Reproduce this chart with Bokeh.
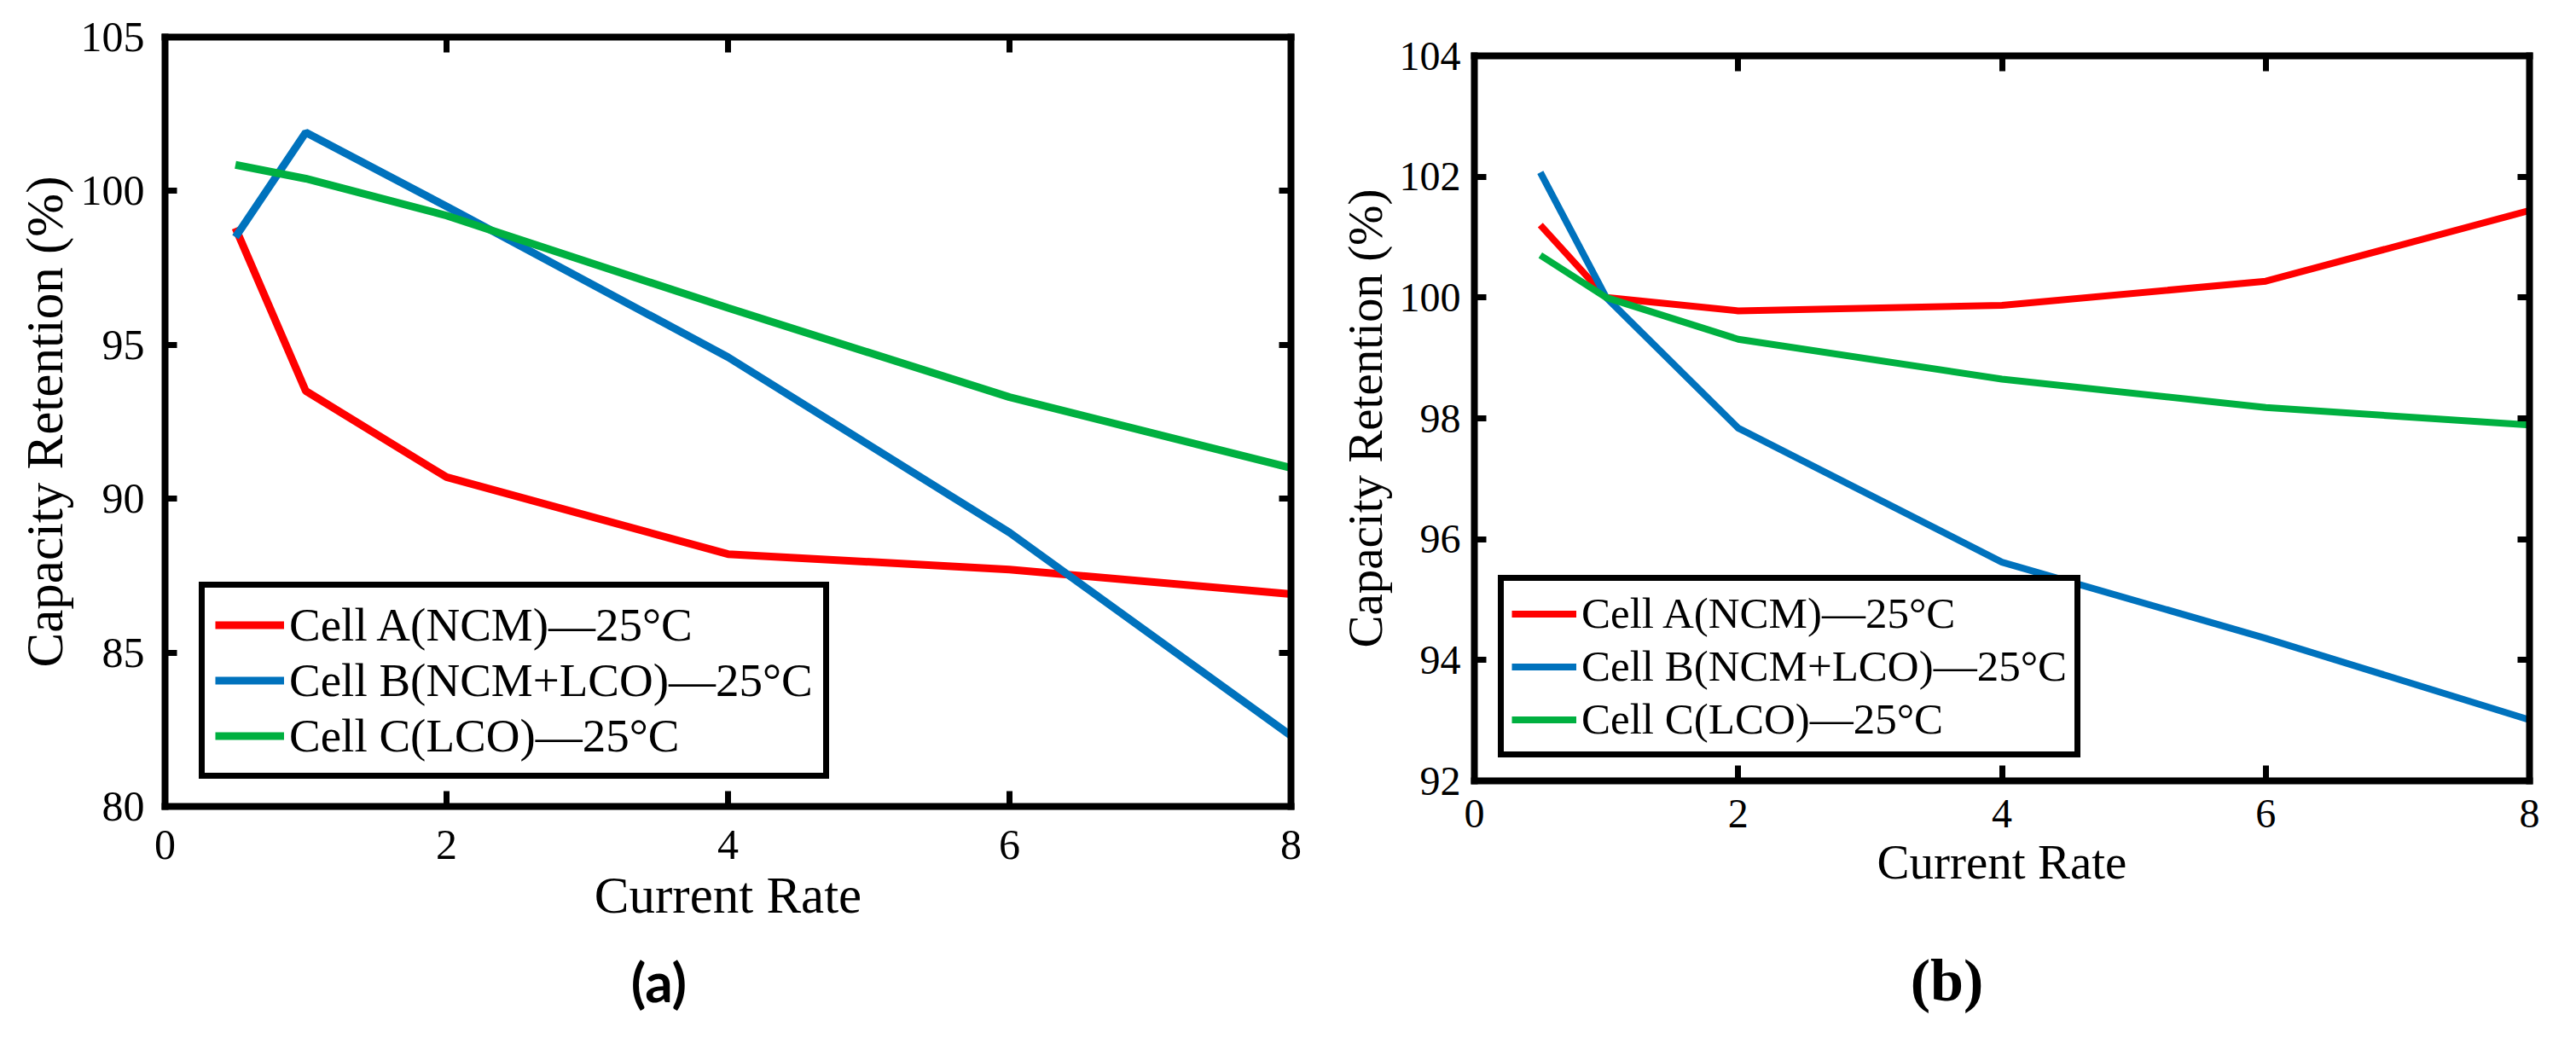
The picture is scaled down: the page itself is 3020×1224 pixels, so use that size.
from bokeh.core.properties import value
from bokeh.embed import file_html
from bokeh.layouts import column, row
from bokeh.models import (ColumnDataSource, CustomJSTickFormatter, FixedTicker, Legend, LegendItem,
                          LinearAxis, Range1d)
from bokeh.plotting import figure
from bokeh.resources import INLINE

# current rate (C) and capacity retention (%)
rates = [0.5, 1, 2, 4, 6, 8]
cell_labels = ["Cell A(NCM)—25°C", "Cell B(NCM+LCO)—25°C", "Cell C(LCO)—25°C"]
cell_colors = ["#ff0000", "#0072bd", "#00b040"]

a_cell_a = [98.8, 93.5, 90.7, 88.2, 87.7, 86.9]
a_cell_b = [98.5, 101.9, 99.5, 94.6, 88.9, 82.3]
a_cell_c = [100.85, 100.4, 99.2, 96.2, 93.3, 91.0]

b_cell_a = [101.2, 100.0, 99.78, 99.87, 100.27, 101.44]
b_cell_b = [102.07, 100.0, 97.84, 95.62, 94.36, 93.01]
b_cell_c = [100.7, 100.0, 99.31, 98.65, 98.18, 97.89]

x_ticks = [0, 2, 4, 6, 8]
a_y_ticks = [80, 85, 90, 95, 100, 105]
b_y_ticks = [92, 94, 96, 98, 100, 102, 104]

SERIF = "Liberation Serif"
TOTAL_H = 1200


def style_axis(axis, ticks, tick_in, font_px, standoff):
    axis.ticker = FixedTicker(ticks=ticks)
    axis.axis_line_width = 8
    axis.axis_line_color = "black"
    axis.axis_line_cap = "square"
    axis.major_tick_in = tick_in
    axis.major_tick_out = 0
    axis.major_tick_line_width = 7
    axis.major_tick_line_color = "black"
    axis.minor_tick_line_color = None
    axis.major_label_standoff = standoff
    axis.major_label_text_font = SERIF
    axis.major_label_text_font_size = f"{font_px}px"
    axis.major_label_text_color = "black"


def box_axis(p, ticks, tick_in, side):
    # matlab "box on": ticks on top/right too, without labels
    ax = LinearAxis()
    style_axis(ax, ticks, tick_in, 0, 0)
    ax.formatter = CustomJSTickFormatter(code="return ''")
    p.add_layout(ax, side)


def make_panel(series, y_lo, y_hi, y_ticks, width, height, borders, fonts, line_w, cfg):
    left, right, top = borders
    tick_px, label_px = fonts
    p = figure(
        width=width,
        height=height,
        x_range=Range1d(0, 8),
        y_range=Range1d(y_lo, y_hi),
        output_backend="svg",
        toolbar_location=None,
        min_border_left=left,
        min_border_right=right,
        min_border_top=top,
        min_border_bottom=height - top - cfg["frame_h"],
    )
    p.grid.visible = False
    p.outline_line_color = None
    p.background_fill_color = "white"

    style_axis(p.xaxis[0], x_ticks, 18, tick_px, cfg["x_standoff"])
    style_axis(p.yaxis[0], y_ticks, 14, tick_px, cfg["y_standoff"])
    p.xaxis.axis_label = "Current Rate"
    p.yaxis.axis_label = "Capacity Retention (%)"
    for ax in (p.xaxis[0], p.yaxis[0]):
        ax.axis_label_text_font = SERIF
        ax.axis_label_text_font_size = f"{label_px}px"
        ax.axis_label_text_font_style = "normal"
        ax.axis_label_text_color = "black"
        ax.axis_label_standoff = 6

    box_axis(p, x_ticks, 18, "above")
    box_axis(p, y_ticks, 14, "right")

    items = []
    for vals, lab, col in zip(series, cell_labels, cell_colors):
        src = ColumnDataSource(data={"rate": rates, "retention": vals})
        r = p.line("rate", "retention", source=src, line_width=line_w, color=col)
        items.append(LegendItem(label=lab, renderers=[r]))

    legend = Legend(items=items, location=cfg["loc"])
    legend.margin = 0
    legend.padding = cfg["pad"]
    legend.spacing = cfg["spacing"]
    legend.glyph_width = cfg["glyph_w"]
    legend.glyph_height = cfg["row_h"]
    legend.label_height = cfg["row_h"]
    legend.label_standoff = 6
    legend.label_text_font = SERIF
    legend.label_text_font_size = f"{cfg['font']}px"
    legend.label_text_color = "black"
    legend.border_line_color = "black"
    legend.border_line_alpha = 1.0
    legend.border_line_width = 7
    legend.background_fill_alpha = 1
    p.add_layout(legend)
    return p


def make_tag(tag, width, height, borders, cx, cy, font, font_px):
    # strip under a panel carrying its (a)/(b) caption; x and y are pixels in this strip
    left, right = borders
    t = figure(
        width=width, height=height,
        x_range=Range1d(left, width - right), y_range=Range1d(0, height),
        output_backend="svg", toolbar_location=None,
        x_axis_location=None, y_axis_location=None,
        min_border_left=left, min_border_right=right, min_border_top=0, min_border_bottom=0,
    )
    t.grid.visible = False
    t.outline_line_color = None
    t.text(x=[cx], y=[cy], text=[tag], text_align="center", text_baseline="middle",
           text_font=value(font), text_font_size=f"{font_px}px", text_font_style="bold",
           text_color="black")
    return t


pa = make_panel(
    [a_cell_a, a_cell_b, a_cell_c], 80, 105, a_y_ticks,
    width=1552, height=1110, borders=(193, 39, 43), fonts=(50, 61), line_w=9,
    cfg={"frame_h": 902, "loc": (40, 32), "pad": 12, "spacing": 2, "glyph_w": 81, "row_h": 61,
         "font": 55, "x_standoff": 28, "y_standoff": 24},
)
pb = make_panel(
    [b_cell_a, b_cell_b, b_cell_c], 92, 104, b_y_ticks,
    width=1452, height=1100, borders=(176, 39, 65), fonts=(48, 57), line_w=8,
    cfg={"frame_h": 850, "loc": (28, 27), "pad": 9, "spacing": 4, "glyph_w": 76, "row_h": 57,
         "font": 51, "x_standoff": 22, "y_standoff": 16},
)
ta = make_tag("(a)", 1552, TOTAL_H - 1110, (193, 39), 772, 50, "Lato", 64)
tb = make_tag("(b)", 1452, TOTAL_H - 1100, (176, 39), 730, 51, SERIF, 70)

layout = row(column(pa, ta), column(pb, tb))
open("out.html", "w").write(file_html(layout, INLINE))
